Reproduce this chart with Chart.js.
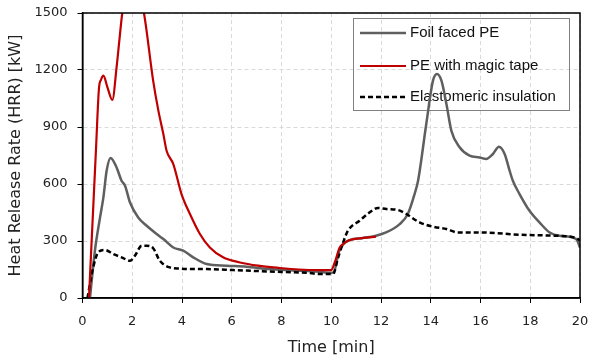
<!DOCTYPE html>
<html>
<head>
<meta charset="utf-8">
<script src="https://cdn.jsdelivr.net/npm/chart.js@4/dist/chart.umd.min.js"></script>
<style>
    html, body { margin: 0; padding: 0; background: #fff; }
    #wrap { width: 591px; height: 360px; }
</style>
</head>
<body>
<div id="wrap"><canvas id="hrrChart" width="591" height="360"></canvas></div>
<script>
/* ---------- data ---------- */
const seriesNames = ["Foil faced PE", "PE with magic tape", "Elastomeric insulation"];

const foilTime = [0.3, 0.5, 0.7, 0.84, 0.97, 1.13, 1.37, 1.57, 1.71, 1.91, 2.24, 2.58, 2.98, 3.25, 3.65, 4.05, 4.45, 4.99, 5.79, 6.6, 7.5, 8.5, 9.5, 10.0, 10.1, 10.3, 10.5, 10.75, 11.25, 11.8, 12.2, 12.75, 13.08, 13.35, 13.49, 13.82, 14.09, 14.25, 14.43, 14.63, 14.83, 15.16, 15.56, 15.96, 16.23, 16.5, 16.74, 16.97, 17.17, 17.3, 17.57, 17.97, 18.37, 18.78, 19.18, 19.85, 20];
const foilHRR  = [0, 250, 420, 530, 670, 737, 687, 617, 591, 503, 424, 380, 337, 310, 266, 249, 214, 179, 170, 165, 152, 145, 138, 133, 135, 240, 285, 305, 315, 328, 345, 389, 442, 547, 617, 916, 1144, 1179, 1144, 1021, 880, 793, 749, 740, 732, 758, 796, 758, 670, 617, 547, 459, 398, 345, 328, 310, 266];

const tapeTime = [0.26, 0.4, 0.54, 0.66, 0.75, 0.84, 1.0, 1.2, 1.37, 1.5, 1.6, 1.8, 2.0, 2.2, 2.47, 2.84, 3.05, 3.25, 3.38, 3.65, 3.98, 4.32, 4.72, 5.12, 5.65, 6.33, 7.06, 7.93, 8.7, 9.5, 10.0, 10.14, 10.34, 10.47, 10.74, 11.28, 11.8];
const tapeHRR  = [0, 390, 776, 1100, 1150, 1170, 1110, 1042, 1214, 1380, 1500, 1620, 1680, 1640, 1500, 1144, 986, 863, 775, 705, 547, 442, 337, 266, 214, 187, 170, 158, 150, 147, 147, 187, 266, 284, 305, 316, 323];

const elastoTime = [0.2, 0.43, 0.63, 0.9, 1.24, 1.57, 1.91, 2.11, 2.38, 2.58, 2.84, 3.11, 3.51, 3.9, 4.5, 5.0, 6.06, 7.0, 8.0, 9.0, 9.54, 10.07, 10.28, 10.48, 10.67, 11.14, 11.55, 11.88, 12.22, 12.68, 13.02, 13.55, 14.09, 14.63, 15.1, 15.96, 17.57, 18.9, 19.85, 20];
const elastoHRR  = [0, 161, 240, 253, 231, 214, 196, 223, 275, 275, 262, 196, 161, 155, 152, 152, 147, 142, 137, 133, 126, 126, 214, 293, 354, 407, 451, 474, 468, 463, 442, 398, 375, 363, 345, 345, 333, 328, 316, 302];

const xTicks = [0, 2, 4, 6, 8, 10, 12, 14, 16, 18, 20];
const yTicks = [0, 300, 600, 900, 1200, 1500];

/* ---------- styles ---------- */
const lineColors = ["#5f5f5f", "#c00000", "#000000"];
const lineDashes = [[], [], [5, 3]];
const lineWidths = [2.5, 2.2, 2.5];

function toPoints(ts, vs) {
    return ts.map((t, i) => ({ x: t, y: vs[i] }));
}

/* ---------- legend (under the lines) + frame ---------- */
const boxPlugin = {
    id: "boxPlugin",
    beforeDatasetsDraw(chart) {
        const ctx = chart.ctx;
        ctx.save();
        ctx.strokeStyle = "#808080";
        ctx.lineWidth = 1;
        ctx.setLineDash([]);
        ctx.strokeRect(353.5, 18.5, 216, 92);

        const rowsY = [33, 66, 97];
        ctx.font = "15px 'Liberation Sans', Arial, sans-serif";
        ctx.textBaseline = "middle";
        seriesNames.forEach((name, i) => {
            ctx.beginPath();
            ctx.strokeStyle = lineColors[i];
            ctx.lineWidth = lineWidths[i];
            ctx.setLineDash(lineDashes[i]);
            ctx.moveTo(360, rowsY[i]);
            ctx.lineTo(406, rowsY[i]);
            ctx.stroke();
            ctx.setLineDash([]);
            ctx.fillStyle = "#111";
            ctx.fillText(name, 410, rowsY[i]);
        });
        ctx.restore();
    },
    afterDraw(chart) {
        const ctx = chart.ctx;
        const a = chart.chartArea;
        ctx.save();
        ctx.strokeStyle = "#000";
        ctx.lineWidth = 1.5;
        ctx.setLineDash([]);
        ctx.strokeRect(a.left, a.top, a.right - a.left, a.bottom - a.top);
        ctx.restore();
    }
};

/* ---------- chart ---------- */
const datasets = [
    { label: seriesNames[1], data: toPoints(tapeTime, tapeHRR), order: 0 },
    { label: seriesNames[2], data: toPoints(elastoTime, elastoHRR), order: 1 },
    { label: seriesNames[0], data: toPoints(foilTime, foilHRR), order: 2 }
].map(ds => {
    const i = seriesNames.indexOf(ds.label);
    return Object.assign(ds, {
        borderColor: lineColors[i],
        borderWidth: lineWidths[i],
        borderDash: lineDashes[i],
        pointRadius: 0,
        fill: false,
        cubicInterpolationMode: "monotone"
    });
});

const tickFont = { family: "'DejaVu Sans', Verdana, sans-serif", size: 13 };
const titleFont = { family: "'DejaVu Sans', Verdana, sans-serif", size: 16 };

new Chart(document.getElementById("hrrChart"), {
    type: "line",
    data: { datasets },
    plugins: [boxPlugin],
    options: {
        responsive: false,
        animation: false,
        maintainAspectRatio: false,
        layout: { padding: { top: 13, right: 11, left: 0, bottom: 0 } },
        plugins: { legend: { display: false }, tooltip: { enabled: false } },
        scales: {
            x: {
                type: "linear",
                min: 0,
                max: 20,
                afterBuildTicks: s => { s.ticks = xTicks.map(v => ({ value: v })); },
                afterFit: s => { s.height = 62; s.paddingLeft = 0; s.paddingRight = 0; },
                ticks: { font: tickFont, color: "#222", padding: 11, maxRotation: 0, callback: v => String(v) },
                grid: { color: "#d9d9d9", tickColor: "#000", tickLength: 5, tickBorderDash: [] },
                border: { color: "#000", width: 1.5, dash: [4, 3] },
                title: { display: true, text: "Time [min]", font: titleFont, color: "#222", padding: { top: 0, bottom: 3 } }
            },
            y: {
                type: "linear",
                min: 0,
                max: 1500,
                afterBuildTicks: s => { s.ticks = yTicks.map(v => ({ value: v })); },
                afterFit: s => { s.width = 82.5; s.paddingTop = 0; s.paddingBottom = 0; },
                ticks: { font: tickFont, color: "#222", padding: 10, callback: v => String(v) },
                grid: { color: "#d9d9d9", tickColor: "#000", tickLength: 5, tickBorderDash: [] },
                border: { color: "#000", width: 1.5, dash: [4, 3] },
                title: { display: true, text: "Heat Release Rate (HRR) [kW]", font: titleFont, color: "#222", padding: { top: 6, bottom: 0 } }
            }
        }
    }
});
</script>
</body>
</html>
